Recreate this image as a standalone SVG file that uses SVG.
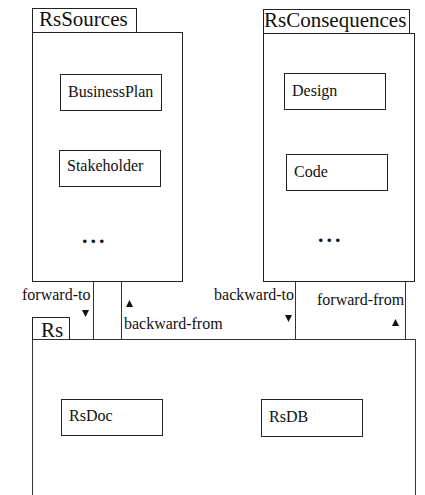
<svg xmlns="http://www.w3.org/2000/svg" width="425" height="495" viewBox="0 0 425 495">
<style>
.b{fill:#fff;stroke:#222;stroke-width:1}
.t{font-family:'Liberation Serif','Times New Roman','DejaVu Serif',serif;fill:#111}
.big{font-size:21px}
.lab{font-size:16px}
.dots{font-size:22px;font-weight:bold;letter-spacing:3px}
.ln{stroke:#333;stroke-width:1;fill:none}
.tri{fill:#111}
</style>
<rect width="425" height="495" fill="#fff"/>
<g id="RsSources">
<rect class="b" x="32.5" y="8.5" width="104" height="24"/>
<text class="t big" x="39" y="26" font-family="Liberation Serif, serif">RsSources</text>
<rect class="b" x="32.5" y="32.5" width="150" height="249"/>
<text class="t dots" x="82" y="243" font-family="Liberation Serif, serif">...</text>
</g>
<g id="BusinessPlan">
<rect class="b" x="60.5" y="74.5" width="101" height="36"/>
<text class="t lab" x="68" y="97" font-family="Liberation Serif, serif">BusinessPlan</text>
</g>
<g id="Stakeholder">
<rect class="b" x="59.5" y="150.5" width="101" height="36"/>
<text class="t lab" x="67" y="171" font-family="Liberation Serif, serif">Stakeholder</text>
</g>
<g id="RsConsequences">
<rect class="b" x="263.5" y="9.5" width="146" height="24"/>
<text class="t big" x="264" y="27" font-family="Liberation Serif, serif">RsConsequences</text>
<rect class="b" x="263.5" y="33.5" width="151" height="248"/>
<text class="t dots" x="318" y="242" font-family="Liberation Serif, serif">...</text>
</g>
<g id="Design">
<rect class="b" x="284.5" y="73.5" width="101" height="36"/>
<text class="t lab" x="292" y="96" font-family="Liberation Serif, serif">Design</text>
</g>
<g id="Code">
<rect class="b" x="286.5" y="154.5" width="101" height="36"/>
<text class="t lab" x="294" y="177" font-family="Liberation Serif, serif">Code</text>
</g>
<g id="Rs">
<rect class="b" x="32.5" y="317.5" width="37" height="22"/>
<text class="t big" x="41" y="337" font-family="Liberation Serif, serif">Rs</text>
<path class="ln" d="M32.5,500 V339.5 H415.5 V500" stroke="#222"/>
</g>
<g id="RsDoc">
<rect class="b" x="61.5" y="399.5" width="101" height="36"/>
<text class="t lab" x="69" y="421" font-family="Liberation Serif, serif">RsDoc</text>
</g>
<g id="RsDB">
<rect class="b" x="261.5" y="399.5" width="101" height="37"/>
<text class="t lab" x="269" y="422" font-family="Liberation Serif, serif">RsDB</text>
</g>
<g id="connectors">
<line class="ln" x1="93.5" y1="282" x2="93.5" y2="339"/>
<line class="ln" x1="121.5" y1="282" x2="121.5" y2="339"/>
<line class="ln" x1="295.5" y1="282" x2="295.5" y2="339"/>
<line class="ln" x1="405.5" y1="282" x2="405.5" y2="339"/>
<text class="t lab" x="22" y="300" font-family="Liberation Serif, serif">forward-to</text>
<polygon class="tri" points="82,310 89,310 85.5,317"/>
<polygon class="tri" points="126,307 133,307 129.5,300"/>
<text class="t lab" x="124" y="329" font-family="Liberation Serif, serif">backward-from</text>
<text class="t lab" x="294" y="300" text-anchor="end" font-family="Liberation Serif, serif">backward-to</text>
<polygon class="tri" points="285,315 292,315 288.5,322"/>
<text class="t lab" x="317" y="305" font-family="Liberation Serif, serif">forward-from</text>
<polygon class="tri" points="392,326 399,326 395.5,319"/>
</g>
</svg>
